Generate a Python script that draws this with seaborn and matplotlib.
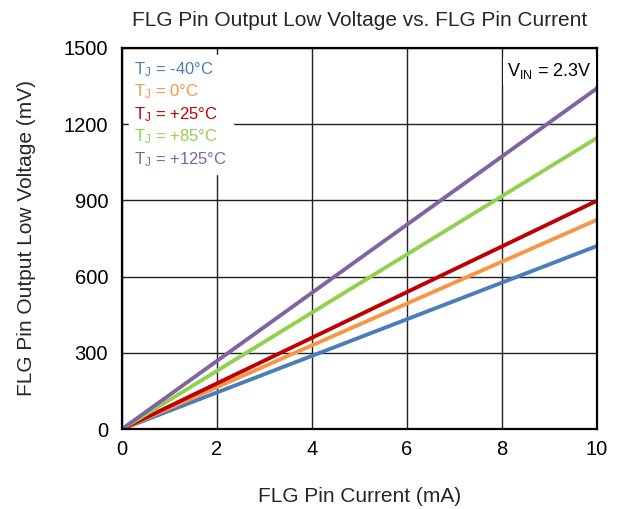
import matplotlib
matplotlib.use("Agg")
import matplotlib.pyplot as plt
import seaborn as sns
import pandas as pd

current_ma = [0, 10]
labels = [r"T$_\mathrm{J}$ = -40°C", r"T$_\mathrm{J}$ = 0°C", r"T$_\mathrm{J}$ = +25°C",
          r"T$_\mathrm{J}$ = +85°C", r"T$_\mathrm{J}$ = +125°C"]
v_m40 = [0, 720]
v_0 = [0, 823]
v_25 = [0, 898]
v_85 = [0, 1145]
v_125 = [0, 1340]
colors = ["#4a7ebb", "#f79646", "#c00000", "#92d050", "#8064a2"]
xticks = [0, 2, 4, 6, 8, 10]
yticks = [0, 300, 600, 900, 1200, 1500]

sns.set_theme(style="white")
plt.rcParams["font.family"] = ["Liberation Sans", "DejaVu Sans"]
plt.rcParams["mathtext.fontset"] = "custom"
plt.rcParams["mathtext.rm"] = "Liberation Sans"
plt.rcParams["mathtext.it"] = "Liberation Sans:italic"

rows = []
for lab, ys in zip(labels, [v_m40, v_0, v_25, v_85, v_125]):
    for x, y in zip(current_ma, ys):
        rows.append({"I": x, "V": y, "T": lab})
df = pd.DataFrame(rows)

fig = plt.figure(figsize=(6.19, 5.09), dpi=100)
ax = fig.add_axes([0.197, 0.157, 0.767, 0.749])
sns.lineplot(data=df, x="I", y="V", hue="T", palette=colors, linewidth=2.8, ax=ax, legend=True)

ax.set_xlim(0, 10)
ax.set_ylim(0, 1500)
ax.set_xticks(xticks)
ax.set_yticks(yticks)
ax.grid(True, color="#222222", linewidth=1.0)
ax.set_axisbelow(True)
for s in ax.spines.values():
    s.set_color("black")
    s.set_linewidth(1.6)
ax.tick_params(axis="both", labelsize=14.5, colors="black", length=0)
ax.tick_params(axis="y", pad=10)
ax.tick_params(axis="x", pad=8)
ax.set_xlabel("FLG Pin Current (mA)", fontsize=15, labelpad=20)
ax.set_ylabel("FLG Pin Output Low Voltage (mV)", fontsize=15, labelpad=20)
ax.set_title("FLG Pin Output Low Voltage vs. FLG Pin Current", fontsize=15, pad=16)

leg = ax.legend(loc="upper left", bbox_to_anchor=(0.0, 1.0), frameon=True, fontsize=12,
                handlelength=0, handletextpad=0, borderpad=0.35, labelspacing=0.22,
                borderaxespad=0.4)
leg.get_frame().set_facecolor("white")
leg.get_frame().set_edgecolor("white")
leg.get_frame().set_alpha(1)
leg.get_frame().set_boxstyle("square", pad=0)
for h in leg.legend_handles:
    h.set_visible(False)
for t, c in zip(leg.get_texts(), colors):
    t.set_color(c)

ax.text(0.99, 0.965, r"V$_\mathrm{IN}$ = 2.3V", transform=ax.transAxes, ha="right", va="top",
        fontsize=13, color="black",
        bbox=dict(facecolor="white", edgecolor="none", pad=3))

fig.savefig("out.png", dpi=100)
